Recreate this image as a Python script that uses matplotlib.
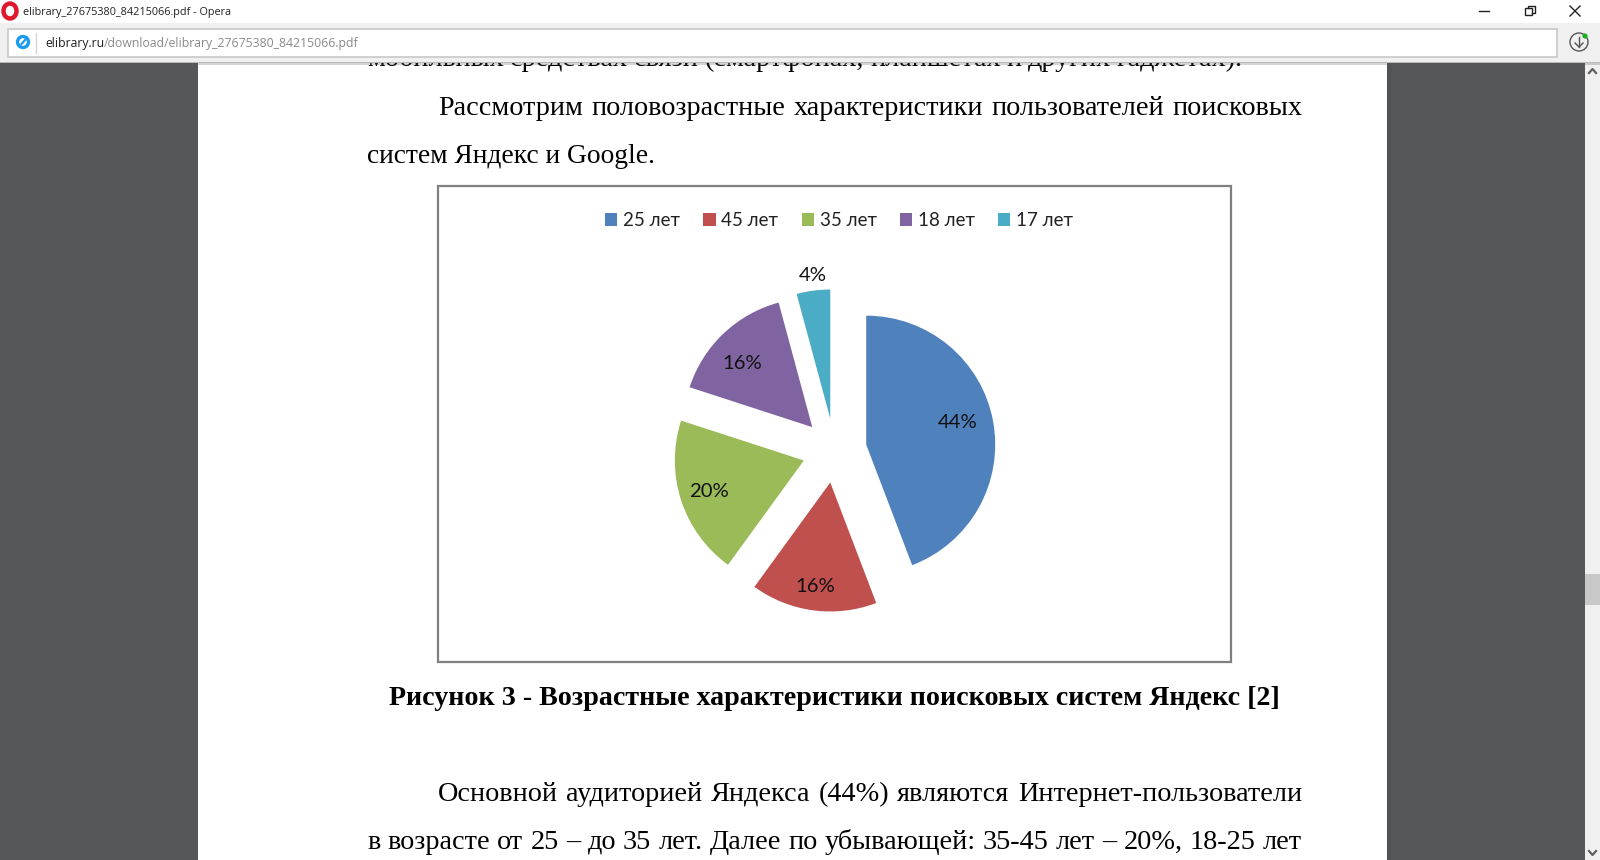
import matplotlib
matplotlib.use('Agg')
import matplotlib.pyplot as plt
from matplotlib.patches import Rectangle, Circle, Ellipse
import numpy as np

# chart data
age_labels = ['25 лет', '45 лет', '35 лет', '18 лет', '17 лет']
shares = [44.2, 15.8, 20.0, 15.8, 4.2]
colors = ['#4f81bd', '#c0504d', '#9bbb59', '#8064a2', '#4bacc6']
label_dist = [0.74, 0.80, 0.765, 0.74, 1.125]
label_shift = [(-0.016, 0.04), (-0.01, -0.016), (-0.008, -0.008), (-0.03, -0.04), (0.012, -0.008)]

# page text
clipped_line = 'мобильных средствах связи (смартфонах, планшетах и других гаджетах).'
para1 = ['Рассмотрим половозрастные характеристики пользователей поисковых',
         'систем Яндекс и Google.']
caption = 'Рисунок 3 - Возрастные характеристики поисковых систем Яндекс [2]'
para2 = ['Основной аудиторией Яндекса (44%) являются Интернет-пользователи',
         'в возрасте от 25 – до 35 лет. Далее по убывающей: 35-45 лет – 20%, 18-25 лет']
window_title = 'elibrary_27675380_84215066.pdf - Opera'
url_host = 'elibrary.ru'
url_path = '/download/elibrary_27675380_84215066.pdf'

W, H = 1600, 860
fig = plt.figure(figsize=(W / 100, H / 100), dpi=100)
bg = fig.add_axes([0, 0, 1, 1])
bg.set_xlim(0, W)
bg.set_ylim(H, 0)
bg.axis('off')
renderer = fig.canvas.get_renderer()


def box(x0, y0, x1, y1, color, z=1, **kw):
    bg.add_patch(Rectangle((x0, y0), x1 - x0, y1 - y0, facecolor=color, edgecolor=kw.pop('ec', 'none'), zorder=z, **kw))


def line_words(text, y, x0, x1=None, size=20.3):
    # x1 given -> justified between x0 and x1, like the pdf viewer shows it
    if x1 is None:
        bg.text(x0, y, text, family='Liberation Serif', fontsize=19.8, va='baseline', color='#000000', zorder=2)
        return
    words = text.split(' ')
    items = [bg.text(0, y, w, family='Liberation Serif', fontsize=size, va='baseline', color='#000000', zorder=2) for w in words]
    widths = [t.get_window_extent(renderer).width for t in items]
    gap = (x1 - x0 - sum(widths)) / (len(words) - 1)
    x = x0
    for t, w in zip(items, widths):
        t.set_x(x)
        x += w + gap


# page and viewer background
box(0, 0, W, H, '#54585b', 0)
box(198, 60, 1387, H, '#ffffff', 0.5)
for i in range(5):
    box(198 - i - 1, 60, 198 - i, H, '#54585b', 0.4, alpha=0.5)
    box(1387 + i, 60, 1388 + i, H, '#3f4244', 0.4, alpha=0.25 - i * 0.04)

# text around the chart
line_words(clipped_line, 66, 367, 1243)
line_words(para1[0], 115, 438, 1302)
line_words(para1[1], 163, 367)
bg.text(834, 705, caption, family='Liberation Serif', fontsize=20.15, fontweight='bold', ha='center', va='baseline', color='#000000')
line_words(para2[0], 801, 438, 1302)
line_words(para2[1], 849, 367, 1302)

# browser chrome
box(0, 0, W, 23, '#ffffff', 5)
box(0, 23, W, 62, '#f0f0f0', 5)
box(0, 62, W, 63, '#b9b9b9', 5)
box(0, 63, W, 65, '#54585b', 4.5, alpha=0.25)
box(8, 29, 1557, 57, '#ffffff', 6, ec='#c8c8c8', linewidth=1.2)
bg.plot([36, 36], [33, 53], color='#d5d5d5', lw=1, zorder=7)
bg.add_patch(Ellipse((10, 11), 13, 15, facecolor='none', edgecolor='#e0182d', linewidth=3.2, zorder=7))
bg.add_patch(Circle((23, 42), 5.5, facecolor='none', edgecolor='#1a9bf0', linewidth=2.4, zorder=7))
bg.plot([21.5, 25], [44, 40], color='#1a9bf0', lw=1.6, zorder=7)
bg.text(23, 13, window_title, family='Open Sans', fontsize=7.85, va='center', color='#222222', zorder=7)
t = bg.text(45, 43.5, url_host, family='Open Sans', fontsize=8.8, va='center', color='#222222', zorder=7)
bg.text(45 + t.get_window_extent(renderer).width, 43.5, url_path, family='Open Sans', fontsize=8.8, va='center', color='#8a8a8a', zorder=7)

# window buttons
bg.plot([1479, 1489], [11, 11], color='#222222', lw=1, zorder=7)
bg.add_patch(Rectangle((1525, 8), 7, 7, facecolor='#ffffff', edgecolor='#222222', linewidth=1, zorder=7))
bg.plot([1527.5, 1527.5, 1534.5, 1534.5, 1532], [8, 6, 6, 13, 13], color='#222222', lw=1, zorder=7)
bg.plot([1570, 1580], [6, 16], color='#222222', lw=1, zorder=7)
bg.plot([1570, 1580], [16, 6], color='#222222', lw=1, zorder=7)

# download button
bg.add_patch(Circle((1579, 42), 9, facecolor='none', edgecolor='#555555', linewidth=1, zorder=7))
bg.plot([1579, 1579], [37, 47], color='#555555', lw=1, zorder=7)
bg.plot([1575, 1579, 1583], [43, 47, 43], color='#555555', lw=1, zorder=7)
bg.add_patch(Circle((1585, 36), 2.6, facecolor='#19b319', edgecolor='none', zorder=8))

# scrollbar
box(1585, 62, W, H, '#f0f0f0', 3)
box(1585, 574, W, 605, '#c8c8c8', 3.5)
bg.plot([1589, 1592.5, 1596], [73, 69, 73], color='#606060', lw=1.6, zorder=4)
bg.plot([1589, 1592.5, 1596], [851, 855, 851], color='#606060', lw=1.6, zorder=4)

# chart frame
box(438, 186, 1231, 662, '#ffffff', 2, ec='#7f7f7f', linewidth=1.6)

# pie, centred at pixel (834.5, 450.5) with radius 129 px
half = 215
ax = fig.add_axes([(834.5 - half) / W, 1 - (450.5 + half) / H, 2 * half / W, 2 * half / H], zorder=3)
wedges, _, pct = ax.pie(shares, colors=colors, explode=[0.25] * 5, startangle=90, counterclock=False,
                        autopct='%.0f%%', pctdistance=0.75, radius=1,
                        textprops={'family': 'Lato', 'fontsize': 14.6, 'color': '#111111'})
ax.set_xlim(-half / 129, half / 129)
ax.set_ylim(-half / 129, half / 129)
ax.set_aspect('equal')
ax.patch.set_alpha(0)

for wedge, text, d, shift in zip(wedges, pct, label_dist, label_shift):
    a = np.deg2rad((wedge.theta1 + wedge.theta2) / 2)
    cx, cy = wedge.center
    text.set_position((cx + d * np.cos(a) + shift[0], cy + d * np.sin(a) + shift[1]))

leg = fig.legend(wedges, age_labels, ncol=5, loc='center', bbox_to_anchor=(839 / W, 1 - 220.5 / H), frameon=False,
                 prop={'family': 'Lato', 'size': 13.5}, handlelength=0.66, handleheight=0.66, handletextpad=0.3,
                 columnspacing=1.24, labelcolor='#222222')
leg.set_zorder(4)

fig.savefig('out.png', dpi=100)
